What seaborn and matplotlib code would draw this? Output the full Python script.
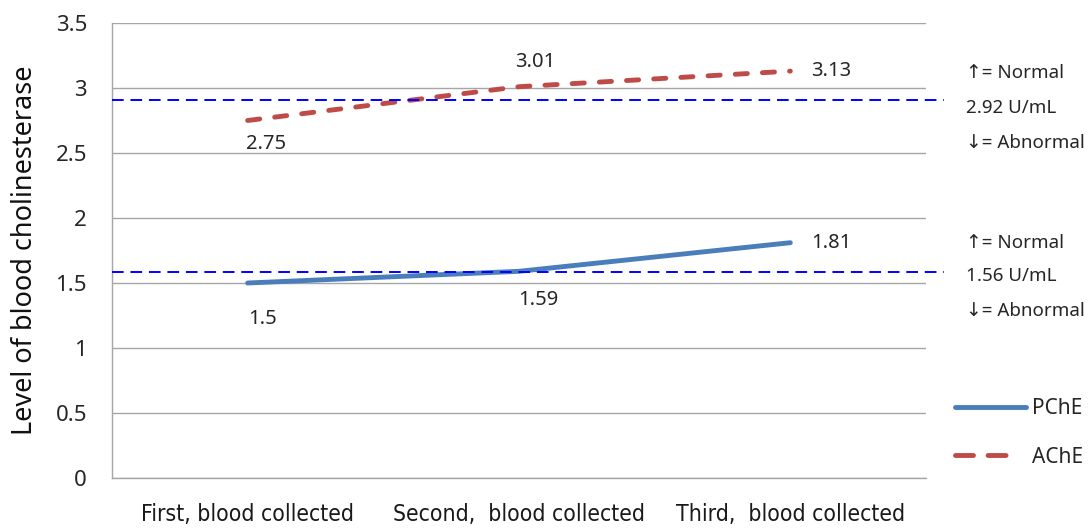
import matplotlib
matplotlib.use("Agg")
import matplotlib.pyplot as plt
import seaborn as sns
import pandas as pd
from matplotlib.lines import Line2D

categories = ["First, blood collected", "Second,  blood collected", "Third,  blood collected"]
pche = [1.5, 1.59, 1.81]
ache = [2.75, 3.01, 3.13]
ref_ache = 2.91   # drawn position of the 2.92 U/mL cutoff
ref_pche = 1.585  # drawn position of the 1.56 U/mL cutoff
ref_texts_ache = ["\u2191= Normal", "2.92 U/mL", "\u2193= Abnormal"]
ref_texts_pche = ["\u2191= Normal", "1.56 U/mL", "\u2193= Abnormal"]
yticks = [0, 0.5, 1, 1.5, 2, 2.5, 3, 3.5]

sns.set_theme(style="white")
plt.rcParams['font.family'] = ['Noto Sans', 'DejaVu Sans']

df = pd.DataFrame({
    "x": list(range(3)) * 2,
    "value": pche + ache,
    "series": ["PChE"] * 3 + ["AChE"] * 3,
})

fig = plt.figure(figsize=(10.89, 5.29), dpi=100)
ax = fig.add_axes([112/1089, 1 - 478/529, (926-112)/1089, (478-23)/529])

blue = "#4A7EBB"
red = "#BE4B48"
ache_dash = (2.5, 3.1)
sns.lineplot(data=df, x="x", y="value", hue="series", style="series",
             palette={"PChE": blue, "AChE": red},
             dashes={"PChE": "", "AChE": ache_dash},
             linewidth=3.5, legend=False, ax=ax)
for l in ax.get_lines():
    l.set_solid_capstyle("round")
    l.set_dash_capstyle("round")

ax.set_xlim(-0.5, 2.5)
ax.set_ylim(0, 3.5)
ax.set_yticks(yticks)
ax.set_yticklabels([f"{t:g}" for t in yticks], fontsize=16, color="#262626")
ax.set_xticks(range(3))
ax.set_xticklabels(categories, fontsize=16.5, color="#1a1a1a",
                   family="DejaVu Sans", stretch="condensed")
ax.tick_params(axis="x", pad=18, length=0)
ax.tick_params(axis="y", pad=18, length=0)
ax.set_xlabel("")
ax.set_ylabel("Level of blood cholinesterase", fontsize=19.5, color="#111111", labelpad=12)

ax.yaxis.grid(True, color="#A6A6A6", linewidth=1)
ax.set_axisbelow(True)
for s in ["top", "right"]:
    ax.spines[s].set_visible(False)
for s in ["left", "bottom"]:
    ax.spines[s].set_color("#A6A6A6")
    ax.spines[s].set_linewidth(1)

for yv in [ref_ache, ref_pche]:
    ax.axhline(yv, xmin=0, xmax=(944-112)/(926-112), color="#0000FF",
               linewidth=1.4, dashes=(6, 3.5), clip_on=False, zorder=3)

# data labels
lab_kw = dict(fontsize=14.5, color="#262626")
ax.annotate(f"{ache[0]:g}", (0, ache[0]), xytext=(13, -17), textcoords="offset points", ha="center", va="center", **lab_kw)
ax.annotate(f"{ache[1]:g}", (1, ache[1]), xytext=(12, 18), textcoords="offset points", ha="center", va="center", **lab_kw)
ax.annotate(f"{ache[2]:g}", (2, ache[2]), xytext=(15, 0), textcoords="offset points", ha="left", va="center", **lab_kw)
ax.annotate(f"{pche[0]:g}", (0, pche[0]), xytext=(11, -26), textcoords="offset points", ha="center", va="center", **lab_kw)
ax.annotate(f"{pche[1]:g}", (1, pche[1]), xytext=(14, -21), textcoords="offset points", ha="center", va="center", **lab_kw)
ax.annotate(f"{pche[2]:g}", (2, pche[2]), xytext=(15, 0), textcoords="offset points", ha="left", va="center", **lab_kw)

# right-hand annotations
for texts, ys in [(ref_texts_ache, [73, 108, 143]), (ref_texts_pche, [243, 276, 311])]:
    for t, yp in zip(texts, ys):
        fig.text(966/1089, 1 - yp/529, t, fontsize=13.5, color="#262626", ha="left", va="center")

# legend
handles = [Line2D([], [], color=blue, lw=3.5, solid_capstyle="round"),
           Line2D([], [], color=red, lw=3.5, dashes=(3.7, 3.0, 3.7, 30), dash_capstyle="round")]
fig.legend(handles, ["PChE", "AChE"], loc="center left",
           bbox_to_anchor=(936/1089, 1 - 433/529), frameon=False,
           fontsize=15, handlelength=3.4, handletextpad=0.3, labelspacing=1.3,
           labelcolor="#262626")

fig.savefig("out.png", dpi=100)
